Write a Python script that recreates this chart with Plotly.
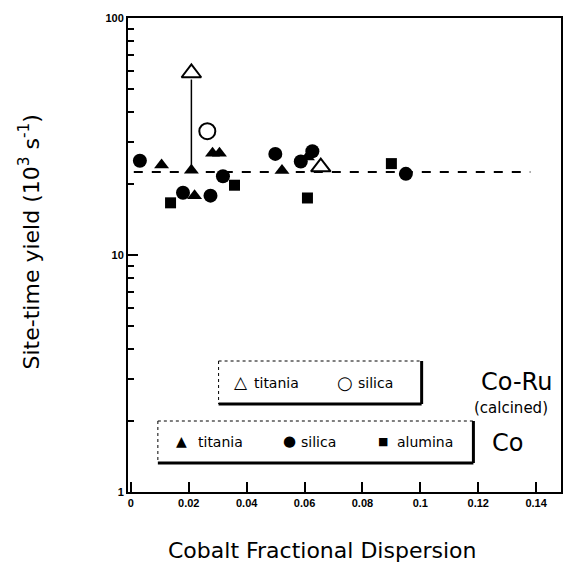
import plotly.graph_objects as go

# ---- data ----
co_titania_x = [0.0106, 0.0209, 0.022, 0.0282, 0.0306, 0.0522, 0.061]
co_titania_y = [24.0, 22.8, 17.8, 26.9, 26.9, 22.7, 25.9]
co_silica_x = [0.0031, 0.018, 0.0275, 0.0318, 0.0499, 0.0587, 0.0627, 0.095]
co_silica_y = [25.0, 18.3, 17.8, 21.5, 26.7, 24.8, 27.4, 22.0]
co_alumina_x = [0.0137, 0.0358, 0.061, 0.090]
co_alumina_y = [16.6, 19.7, 17.4, 24.3]
coru_titania_x = [0.0209, 0.0656]
coru_titania_y = [58.6, 23.5]
coru_silica_x = [0.0264]
coru_silica_y = [33.3]
ref_x = [0.001, 0.138]
ref_y = [22.4, 22.4]
link_x = [0.0209, 0.0209]
link_y = [23.5, 55.0]

x_tickvals = [0, 0.02, 0.04, 0.06, 0.08, 0.1, 0.12, 0.14]
x_ticktext = ["0", "0.02", "0.04", "0.06", "0.08", "0.1", "0.12", "0.14"]
y_tickvals = [1, 10, 100]
y_ticktext = ["1", "10", "100"]
y_minor = [v * m for m in (1, 10) for v in range(2, 10)]

FONT = "Liberation Sans, Arial, sans-serif"
WIDE = "DejaVu Sans, sans-serif"

fig = go.Figure()
fig.add_trace(go.Scatter(x=ref_x, y=ref_y, mode="lines",
                         line=dict(color="black", width=2, dash="dash")))
fig.add_trace(go.Scatter(x=link_x, y=link_y, mode="lines",
                         line=dict(color="black", width=1.5)))
fig.add_trace(go.Scatter(x=co_titania_x, y=co_titania_y, mode="markers",
                         marker=dict(symbol="triangle-up", size=13, color="black")))
fig.add_trace(go.Scatter(x=co_silica_x, y=co_silica_y, mode="markers",
                         marker=dict(symbol="circle", size=14, color="black")))
fig.add_trace(go.Scatter(x=co_alumina_x, y=co_alumina_y, mode="markers",
                         marker=dict(symbol="square", size=11, color="black")))
fig.add_trace(go.Scatter(x=coru_titania_x, y=coru_titania_y, mode="markers",
                         marker=dict(symbol="triangle-up-open", size=17, color="black",
                                     line=dict(width=2))))
fig.add_trace(go.Scatter(x=coru_silica_x, y=coru_silica_y, mode="markers",
                         marker=dict(symbol="circle-open", size=16, color="black",
                                     line=dict(width=2))))

L, R, T, B = 128, 2, 18, 81
W, H = 565, 573
pw, ph = W - L - R, H - T - B


def px(xp):
    return (xp - L) / pw


def py(yp):
    return (H - B - yp) / ph


shapes = []


def legend_box(x0, x1, y0, y1):
    shapes.append(dict(type="line", xref="paper", yref="paper", x0=px(x0), x1=px(x1),
                       y0=py(y0), y1=py(y0), line=dict(color="black", width=1, dash="dot")))
    shapes.append(dict(type="line", xref="paper", yref="paper", x0=px(x0), x1=px(x0),
                       y0=py(y0), y1=py(y1), line=dict(color="black", width=1, dash="dot")))
    shapes.append(dict(type="line", xref="paper", yref="paper", x0=px(x0), x1=px(x1),
                       y0=py(y1), y1=py(y1), line=dict(color="black", width=3)))
    shapes.append(dict(type="line", xref="paper", yref="paper", x0=px(x1), x1=px(x1),
                       y0=py(y0), y1=py(y1), line=dict(color="black", width=3)))


legend_box(219, 423, 361, 404)
legend_box(158, 475, 421, 463)


def ann(text, x, y, size, xanchor="left", family=WIDE, angle=0):
    return dict(text=text, x=px(x), y=py(y), xanchor=xanchor, yanchor="middle",
                xref="paper", yref="paper", showarrow=False, textangle=angle,
                font=dict(size=size, family=family, color="black"))


annotations = [
    ann("△", 242, 382, 17, "center"),
    ann("titania", 253, 383, 14),
    ann("○", 346, 382, 18, "center"),
    ann("silica", 357, 383, 14),
    ann("▲", 182, 441, 14, "center"),
    ann("titania", 196, 442, 14),
    ann("●", 290, 441, 15, "center"),
    ann("silica", 300, 442, 14),
    ann("■", 384, 441, 11, "center"),
    ann("alumina", 396, 442, 14),
    ann("Co-Ru", 481, 382, 24),
    ann("(calcined)", 474, 408, 15),
    ann("Co", 492, 443, 24),
    ann("Cobalt Fractional Dispersion", 323, 550, 22, "center"),
    ann("Site-time yield (10<sup>3</sup> s<sup>-1</sup>)", 29, 242, 22, "center", angle=-90),
]

fig.update_layout(
    width=W, height=H,
    margin=dict(l=L, r=R, t=T, b=B),
    paper_bgcolor="white", plot_bgcolor="white",
    showlegend=False,
    shapes=shapes,
    annotations=annotations,
    font=dict(family=FONT, color="black"),
)
fig.update_xaxes(
    range=[-0.001, 0.1486], tickvals=x_tickvals, ticktext=x_ticktext,
    ticks="inside", ticklen=10, tickwidth=1.5, tickcolor="black",
    showline=True, linecolor="black", linewidth=2, mirror=True,
    showgrid=False, zeroline=False,
    tickfont=dict(size=11, family=FONT, color="black", weight="bold"),
)
fig.update_yaxes(
    type="log", range=[0, 2], tickvals=y_tickvals, ticktext=y_ticktext,
    ticks="inside", ticklen=10, tickwidth=1.5, tickcolor="black",
    minor=dict(tickvals=y_minor, ticks="inside", ticklen=6, tickcolor="black", tickwidth=1.5),
    showline=True, linecolor="black", linewidth=2, mirror=True,
    showgrid=False, zeroline=False,
    tickfont=dict(size=11, family=FONT, color="black", weight="bold"),
)

fig.write_html("out.html")
